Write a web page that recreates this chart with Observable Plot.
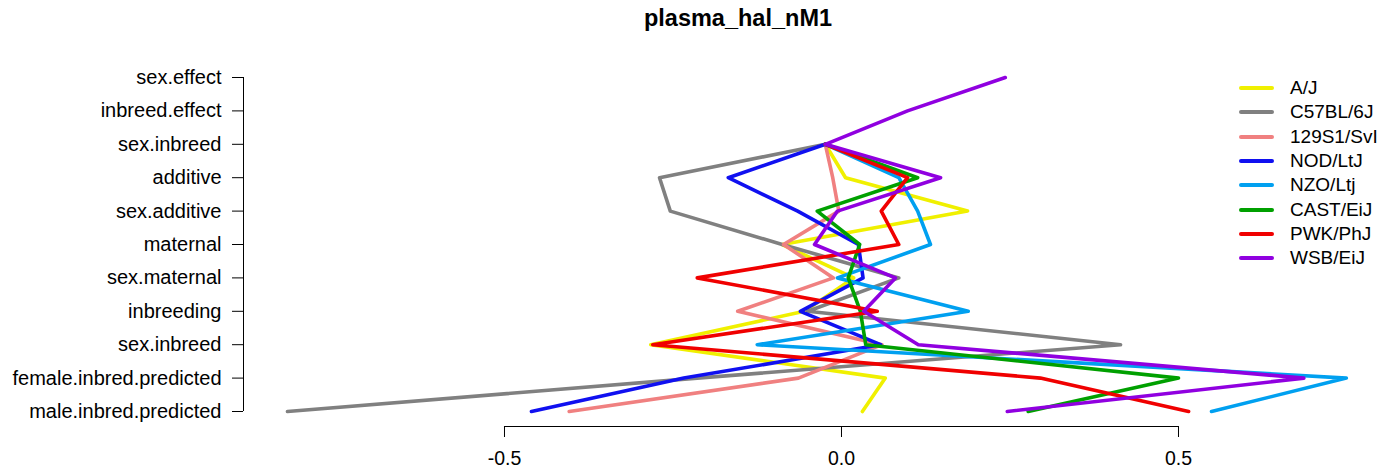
<!DOCTYPE html>
<html>
<head>
<meta charset="utf-8">
<script src="https://cdn.jsdelivr.net/npm/d3@7"></script>
<script src="https://cdn.jsdelivr.net/npm/@observablehq/plot@0.6"></script>
<style>
  body { margin: 0; background: #fff; font-family: "Liberation Sans", Arial, sans-serif; }
  #wrap { position: relative; width: 1393px; height: 474px; overflow: hidden; }
  #title { position: absolute; left: 738px; top: 5px; transform: translateX(-50%);
           font-weight: bold; font-size: 23.5px; line-height: 26px; white-space: nowrap; }
  #legend { position: absolute; left: 1239px; top: 76px; font-size: 19px; }
  #legend .row { display: flex; align-items: center; height: 24.3px; }
  #legend svg { width: 35px; height: 24px; margin-right: 16px; }
</style>
</head>
<body>
<div id="wrap">
  <div id="title">plasma_hal_nM1</div>
  <div id="chart"></div>
  <div id="legend"></div>
</div>
<script>
// Effect terms, top to bottom (note the repeated "sex.inbreed")
const categories = ["sex.effect", "inbreed.effect", "sex.inbreed", "additive", "sex.additive",
  "maternal", "sex.maternal", "inbreeding", "sex.inbreed",
  "female.inbred.predicted", "male.inbred.predicted"];

const strains = ["A/J", "C57BL/6J", "129S1/SvI", "NOD/LtJ", "NZO/Ltj", "CAST/EiJ", "PWK/PhJ", "WSB/EiJ"];
const strainColors = ["#F0F000", "#808080", "#F08080", "#1010F0", "#00A0F0", "#00A000", "#F00000", "#9000E0"];

// Per-strain values for each effect term (null = not estimated)
const AJ     = [null, null, -0.024,  0.006,  0.187, -0.088,  0.018, -0.055, -0.283,  0.065,  0.031];
const B6     = [null, null, -0.024, -0.270, -0.254, -0.088,  0.085, -0.050,  0.414, -0.214, -0.822];
const S129   = [null, null, -0.024, -0.013, -0.004, -0.086, -0.012, -0.154,  0.060, -0.064, -0.404];
const NOD    = [null, null, -0.024, -0.168, -0.065,  0.025,  0.032, -0.061,  0.058, -0.234, -0.460];
const NZO    = [null, null, -0.024,  0.085,  0.113,  0.132, -0.006,  0.188, -0.125,  0.749,  0.549];
const CAST   = [null, null, -0.024,  0.113, -0.036,  0.027,  0.010,  0.028,  0.036,  0.500,  0.277];
const PWK    = [null, null, -0.024,  0.098,  0.059,  0.085, -0.214,  0.053, -0.280,  0.295,  0.515];
const WSB    = [0.243, 0.098, -0.024, 0.147, -0.006, -0.040,  0.080,  0.033,  0.114,  0.686,  0.246];

const xTicks = [-0.5, 0, 0.5];

const series = [AJ, B6, S129, NOD, NZO, CAST, PWK, WSB];
const rows = [];
series.forEach((vals, s) => {
  vals.forEach((v, i) => {
    if (v !== null) rows.push({ strain: strains[s], index: i, value: v });
  });
});

const xDomain = [-0.88724, 0.78932];

const chart = Plot.plot({
  width: 1393,
  height: 474,
  marginLeft: 243,
  marginRight: 20,
  marginTop: 77,
  marginBottom: 48,
  insetBottom: 15,
  style: { fontFamily: "'Liberation Sans', Arial, sans-serif", fontSize: "20px", background: "white", color: "black" },
  x: { domain: xDomain, axis: null },
  y: { domain: [0, categories.length - 1], reverse: true, axis: null },
  color: { domain: strains, range: strainColors },
  marks: [
    // y axis spine
    Plot.ruleX([xDomain[0]], { y1: 0, y2: categories.length - 1, stroke: "black", strokeWidth: 1 }),
    Plot.axisY(d3.range(categories.length), {
      tickSize: 11, tickPadding: 11, fontSize: 20, label: null,
      tickFormat: i => categories[i]
    }),
    // x axis spine spanning the outer ticks
    Plot.ruleY([categories.length - 1], { x1: xTicks[0], x2: xTicks[xTicks.length - 1], dy: 15, stroke: "black", strokeWidth: 1 }),
    Plot.axisX(xTicks, {
      tickSize: 11, tickPadding: 14, fontSize: 19.5, label: null,
      tickFormat: d => d.toFixed(1)
    }),
    Plot.line(rows, {
      x: "value", y: "index", z: "strain", stroke: "strain",
      strokeWidth: 3.6, strokeLinecap: "round", strokeLinejoin: "round"
    })
  ]
});
document.getElementById("chart").appendChild(chart);

// Legend
const legend = document.getElementById("legend");
strains.forEach((s, i) => {
  const row = document.createElement("div");
  row.className = "row";
  row.innerHTML = `<svg viewBox="0 0 35 24"><line x1="2" y1="12" x2="33" y2="12" stroke="${strainColors[i]}" stroke-width="4" stroke-linecap="round"/></svg><span>${s}</span>`;
  legend.appendChild(row);
});
</script>
</body>
</html>
